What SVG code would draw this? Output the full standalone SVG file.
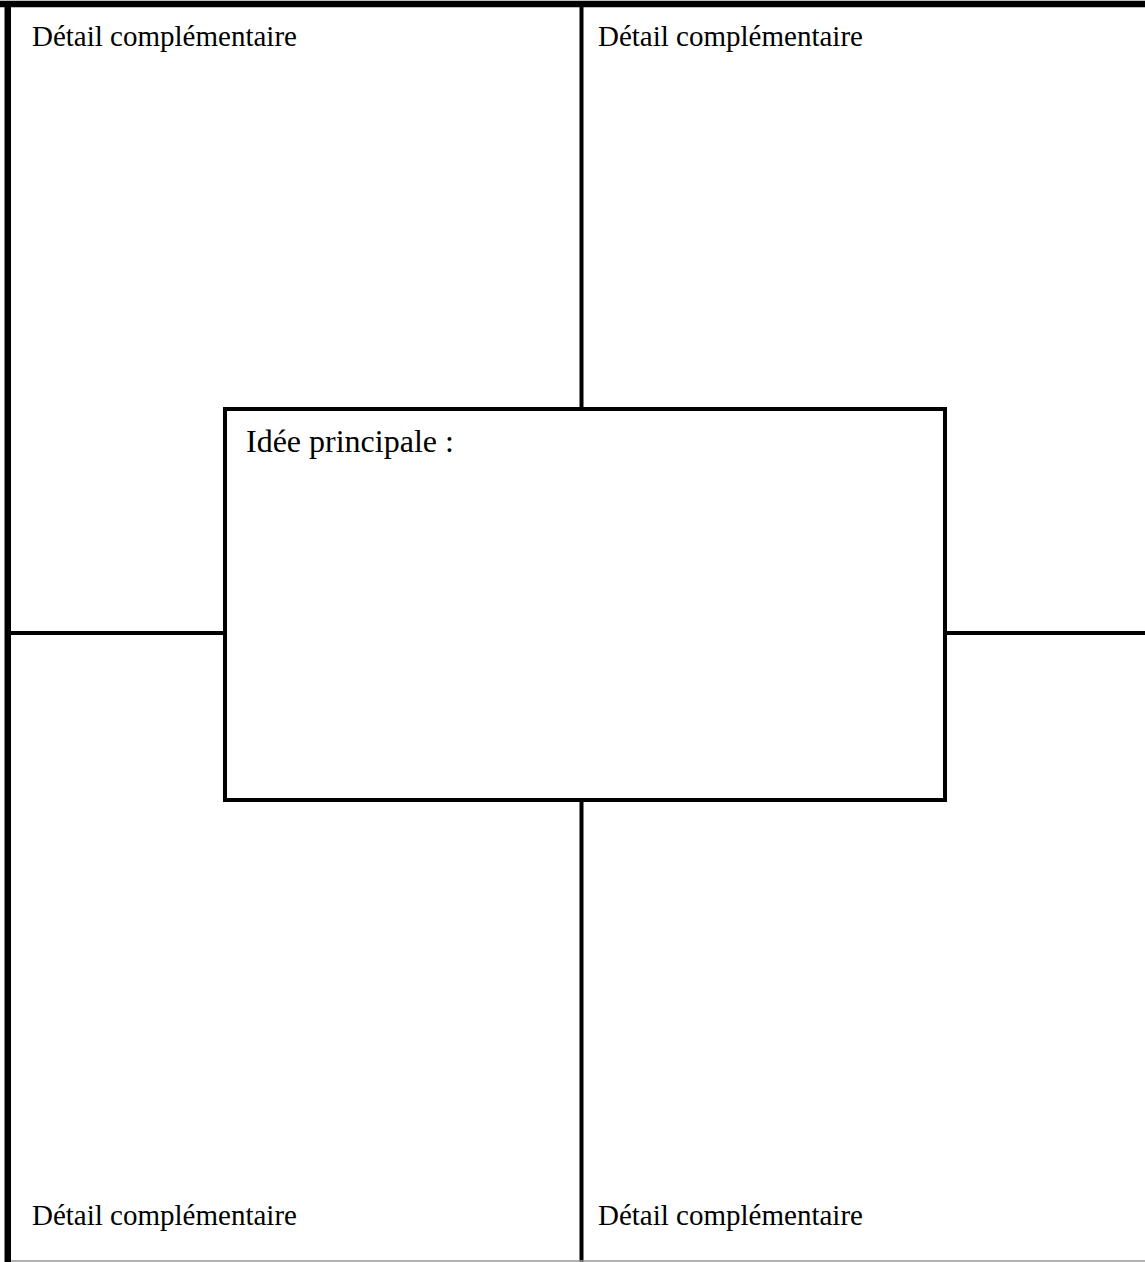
<svg xmlns="http://www.w3.org/2000/svg" width="1145" height="1262" viewBox="0 0 1145 1262">
<style>
.t{font-family:"Liberation Serif","Times New Roman",serif;fill:#000}
.d{font-size:29px}
.m{font-size:32px}
.ln{stroke:#000;stroke-width:4;fill:none}
.bd{stroke:#000;stroke-width:6.5;fill:none}
</style>
<rect width="1145" height="1262" fill="#fff"/>
<g id="connectors">
<line class="ln" x1="581.5" y1="7" x2="581.5" y2="409"/>
<line class="ln" x1="581.5" y1="800" x2="581.5" y2="1262"/>
<line class="ln" x1="11" y1="633" x2="225" y2="633"/>
<line class="ln" x1="945" y1="633" x2="1145" y2="633"/>
</g>
<g id="frame">
<line class="bd" x1="0" y1="4" x2="1145" y2="4"/>
<line class="bd" x1="7.75" y1="1" x2="7.75" y2="1262"/>
<line x1="11" y1="1261" x2="1145" y2="1261" stroke="#999" stroke-width="1.5"/>
</g>
<g id="detail-top-left"><text class="t d" x="32" y="46">Détail complémentaire</text></g>
<g id="detail-top-right"><text class="t d" x="598" y="46">Détail complémentaire</text></g>
<g id="detail-bottom-left"><text class="t d" x="32" y="1225">Détail complémentaire</text></g>
<g id="detail-bottom-right"><text class="t d" x="598" y="1225">Détail complémentaire</text></g>
<g id="main-idea">
<rect class="ln" x="225" y="409" width="720" height="391" fill="#fff"/>
<text class="t m" x="246" y="452">Idée principale :</text>
</g>
</svg>
